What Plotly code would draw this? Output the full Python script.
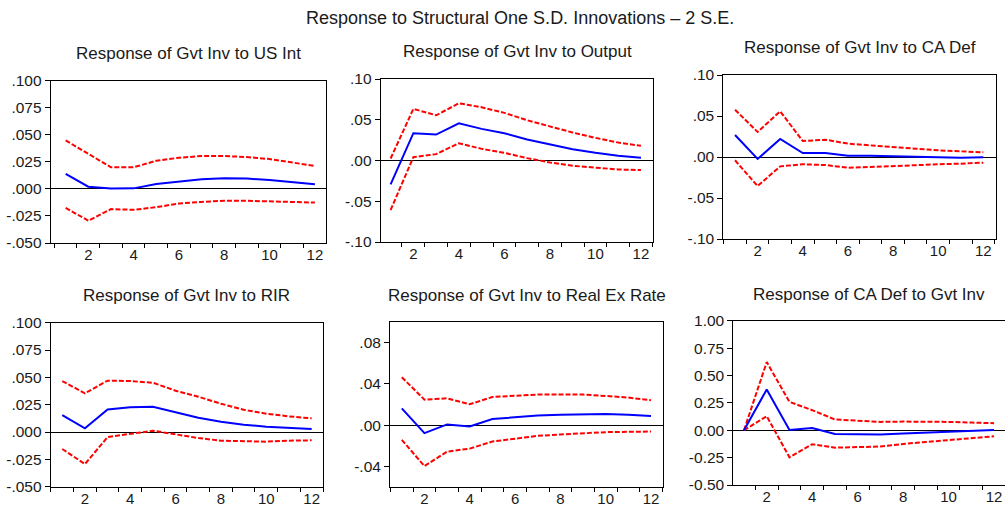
import plotly.graph_objects as go

periods = list(range(1, 13))

titles = [
    "Response of Gvt Inv to US Int",
    "Response of Gvt Inv to Output",
    "Response of Gvt Inv to CA Def",
    "Response of Gvt Inv to RIR",
    "Response of Gvt Inv to Real Ex Rate",
    "Response of CA Def to Gvt Inv",
]

# Panel 1: Gvt Inv to US Int
p1_resp = [0.0138, 0.0020, 0.0003, 0.0005, 0.0046, 0.0070, 0.0089, 0.0098, 0.0095, 0.0083, 0.0064, 0.0043]
p1_upper = [0.0448, 0.0325, 0.0200, 0.0200, 0.0260, 0.0288, 0.0304, 0.0304, 0.0294, 0.0276, 0.0245, 0.0212]
p1_lower = [-0.0175, -0.0294, -0.0187, -0.0193, -0.0169, -0.0135, -0.0120, -0.0110, -0.0110, -0.0117, -0.0120, -0.0126]

# Panel 2: Gvt Inv to Output
p2_resp = [-0.0294, 0.0335, 0.0318, 0.0457, 0.0388, 0.0335, 0.0257, 0.0196, 0.0139, 0.0094, 0.0057, 0.0033]
p2_upper = [0.0024, 0.0633, 0.0555, 0.0702, 0.0653, 0.0584, 0.0494, 0.0416, 0.0343, 0.0278, 0.0220, 0.0180]
p2_lower = [-0.0608, 0.0041, 0.0078, 0.0212, 0.0143, 0.0094, 0.0029, -0.0024, -0.0065, -0.0090, -0.0110, -0.0118]

# Panel 3: Gvt Inv to CA Def
p3_resp = [0.0268, -0.0024, 0.0220, 0.0049, 0.0049, 0.0016, 0.0016, 0.0008, 0.0004, -0.0004, -0.0008, -0.0004]
p3_upper = [0.0577, 0.0305, 0.0557, 0.0195, 0.0211, 0.0163, 0.0142, 0.0118, 0.0102, 0.0081, 0.0069, 0.0057]
p3_lower = [-0.0040, -0.0354, -0.0114, -0.0089, -0.0098, -0.0130, -0.0122, -0.0114, -0.0102, -0.0089, -0.0081, -0.0069]

# Panel 4: Gvt Inv to RIR
p4_resp = [0.0155, 0.0034, 0.0207, 0.0226, 0.0232, 0.0180, 0.0131, 0.0095, 0.0067, 0.0049, 0.0037, 0.0027]
p4_upper = [0.0466, 0.0354, 0.0470, 0.0466, 0.0451, 0.0378, 0.0323, 0.0259, 0.0204, 0.0168, 0.0143, 0.0125]
p4_lower = [-0.0155, -0.0293, -0.0046, -0.0015, 0.0012, -0.0021, -0.0055, -0.0079, -0.0085, -0.0088, -0.0079, -0.0076]

# Panel 5: Gvt Inv to Real Ex Rate
p5_resp = [0.0163, -0.0078, 0.0007, -0.0013, 0.0059, 0.0078, 0.0094, 0.0101, 0.0107, 0.0107, 0.0101, 0.0088]
p5_upper = [0.0465, 0.0247, 0.0260, 0.0202, 0.0273, 0.0283, 0.0296, 0.0296, 0.0296, 0.0283, 0.0267, 0.0241]
p5_lower = [-0.0143, -0.0397, -0.0257, -0.0228, -0.0159, -0.0130, -0.0104, -0.0091, -0.0078, -0.0068, -0.0065, -0.0062]

# Panel 6: CA Def to Gvt Inv
p6_resp = [0.0, 0.372, 0.003, 0.021, -0.034, -0.037, -0.040, -0.030, -0.021, -0.012, -0.003, 0.003]
p6_upper = [0.0, 0.622, 0.259, 0.183, 0.098, 0.088, 0.076, 0.079, 0.079, 0.076, 0.070, 0.064]
p6_lower = [0.0, 0.128, -0.247, -0.128, -0.159, -0.152, -0.149, -0.125, -0.107, -0.088, -0.070, -0.055]

responses = [p1_resp, p2_resp, p3_resp, p4_resp, p5_resp, p6_resp]
uppers = [p1_upper, p2_upper, p3_upper, p4_upper, p5_upper, p6_upper]
lowers = [p1_lower, p2_lower, p3_lower, p4_lower, p5_lower, p6_lower]

# y-axis ticks
y1_vals = [0.100, 0.075, 0.050, 0.025, 0.000, -0.025, -0.050]
y1_text = [".100", ".075", ".050", ".025", ".000", "-.025", "-.050"]
y2_vals = [0.10, 0.05, 0.00, -0.05, -0.10]
y2_text = [".10", ".05", ".00", "-.05", "-.10"]
y5_vals = [0.08, 0.04, 0.00, -0.04]
y5_text = [".08", ".04", ".00", "-.04"]
y6_vals = [1.00, 0.75, 0.50, 0.25, 0.00, -0.25, -0.50]
y6_text = ["1.00", "0.75", "0.50", "0.25", "0.00", "-0.25", "-0.50"]

x_label_vals = [2, 4, 6, 8, 10, 12]
x_label_text = ["2", "4", "6", "8", "10", "12"]
x_minor_vals = [i + 0.5 for i in range(0, 13)]

W, H = 1005, 508
# pixel boxes: (left, right, top, bottom)
boxes = [
    (50.7, 326, 80.7, 243),
    (380.7, 653, 79, 242),
    (723.3, 996, 75, 239),
    (50.7, 323, 322.7, 486.7),
    (390, 663, 322, 487),
    (733.3, 1005, 320.7, 485),
]
xranges = [[0.34, 12.49], [0.565, 12.53], [0.48, 12.56], [0.49, 12.5], [0.48, 12.53], [0.53, 12.48]]
yranges = [[-0.05, 0.10], [-0.10, 0.10], [-0.10, 0.10], [-0.05, 0.10], [-0.06, 0.10], [-0.5, 1.0]]
yticks = [(y1_vals, y1_text), (y2_vals, y2_text), (y2_vals, y2_text),
          (y1_vals, y1_text), (y5_vals, y5_text), (y6_vals, y6_text)]
title_pos = [(188, 53), (517, 51.7), (860, 47.7), (186, 295), (527, 295), (869, 294)]

FONT = "Liberation Sans, Arial, sans-serif"
TXT = "#1a1a1a"

fig = go.Figure()
layout = dict(
    template="none",
    width=W, height=H,
    autosize=False,
    margin=dict(l=0, r=0, t=0, b=0, pad=0),
    paper_bgcolor="white", plot_bgcolor="white",
    showlegend=False,
    font=dict(family=FONT, size=15, color=TXT),
    annotations=[],
)

for i in range(6):
    n = i + 1
    xa = "x" if n == 1 else f"x{n}"
    ya = "y" if n == 1 else f"y{n}"
    xkey = "xaxis" if n == 1 else f"xaxis{n}"
    ykey = "yaxis" if n == 1 else f"yaxis{n}"
    l, r, t, b = boxes[i]

    fig.add_trace(go.Scatter(x=periods, y=uppers[i], mode="lines", xaxis=xa, yaxis=ya,
                             line=dict(color="#ff0000", width=2, dash="5px,2px"),
                             hoverinfo="skip"))
    fig.add_trace(go.Scatter(x=periods, y=lowers[i], mode="lines", xaxis=xa, yaxis=ya,
                             line=dict(color="#ff0000", width=2, dash="5px,2px"),
                             hoverinfo="skip"))
    fig.add_trace(go.Scatter(x=periods, y=responses[i], mode="lines", xaxis=xa, yaxis=ya,
                             line=dict(color="#0000ff", width=2)))

    layout[xkey] = dict(
        domain=[l / W, min(r / W, 1.0)],
        anchor=ya,
        range=xranges[i],
        automargin=False,
        showgrid=False, zeroline=False,
        showline=True, mirror=True, linecolor="black", linewidth=1,
        tickmode="array", tickvals=x_label_vals, ticktext=x_label_text,
        ticks="outside", ticklen=0, tickcolor="rgba(0,0,0,0)",
        ticklabelstandoff=-2,
        tickfont=dict(family=FONT, size=15, color=TXT),
        minor=dict(tickmode="array", tickvals=x_minor_vals, ticks="outside",
                   ticklen=4, tickcolor="black", tickwidth=1, showgrid=False),
        fixedrange=True,
    )
    layout[ykey] = dict(
        domain=[1 - b / H, 1 - t / H],
        anchor=xa,
        range=yranges[i],
        automargin=False,
        showgrid=False,
        zeroline=True, zerolinecolor="black", zerolinewidth=1,
        showline=True, mirror=True, linecolor="black", linewidth=1,
        tickmode="array", tickvals=yticks[i][0], ticktext=yticks[i][1],
        ticks="outside", ticklen=5, tickcolor="black", tickwidth=1,
        tickfont=dict(family=FONT, size=15.5, color=TXT),
        fixedrange=True,
    )
    tx, ty = title_pos[i]
    layout["annotations"].append(dict(
        text=titles[i], x=tx / W, y=1 - ty / H, xref="paper", yref="paper",
        xanchor="center", yanchor="middle", showarrow=False,
        font=dict(family=FONT, size=17, color=TXT),
    ))

layout["annotations"].append(dict(
    text="Response to Structural One S.D. Innovations \u2013 2 S.E.",
    x=520 / W, y=1 - 18 / H, xref="paper", yref="paper",
    xanchor="center", yanchor="middle", showarrow=False,
    font=dict(family=FONT, size=18, color=TXT),
))

fig.update_layout(**layout)
fig.write_html(
    "out.html",
    config={"displayModeBar": False},
    post_script="document.body.style.margin='0';document.body.style.padding='0';document.body.style.overflow='hidden';",
)
